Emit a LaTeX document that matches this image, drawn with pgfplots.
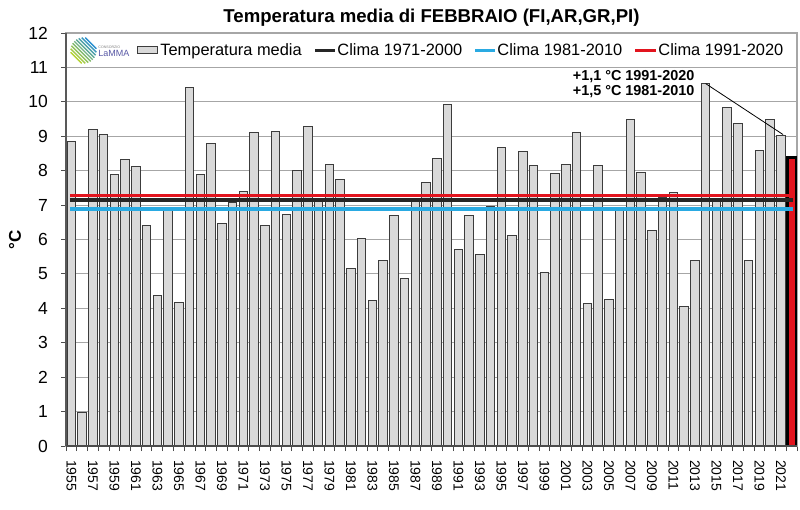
\documentclass[border=0pt]{standalone}
\usepackage{fontspec}
\setmainfont{Liberation Sans}
\usepackage{pgfplots}
\usepackage{pgfplotstable}
\pgfplotsset{compat=1.18}
\definecolor{barfill}{HTML}{D9D9D9}
\definecolor{baredge}{HTML}{3C3C3C}
\definecolor{climablue}{HTML}{2AAAE2}
\definecolor{climared}{HTML}{E2141E}
\definecolor{climablack}{HTML}{262626}
\definecolor{gridgray}{HTML}{A6A6A6}
\definecolor{logogreen}{HTML}{B5D334}
\definecolor{logoblue}{HTML}{2A8FD0}

\pgfplotstableread{
year temp
1955 8.84
1956 0.97
1957 9.21
1958 9.06
1959 7.90
1960 8.33
1961 8.11
1962 6.42
1963 4.37
1964 6.85
1965 4.18
1966 10.42
1967 7.88
1968 8.80
1969 6.47
1970 7.08
1971 7.39
1972 9.10
1973 6.42
1974 9.13
1975 6.72
1976 8.00
1977 9.27
1978 7.20
1979 8.18
1980 7.75
1981 5.17
1982 6.02
1983 4.24
1984 5.38
1985 6.71
1986 4.86
1987 7.12
1988 7.66
1989 8.36
1990 9.91
1991 5.71
1992 6.71
1993 5.55
1994 6.95
1995 8.68
1996 6.13
1997 8.57
1998 8.15
1999 5.04
2000 7.93
2001 8.17
2002 9.10
2003 4.13
2004 8.14
2005 4.25
2006 6.83
2007 9.49
2008 7.94
2009 6.25
2010 7.22
2011 7.38
2012 4.05
2013 5.38
2014 10.53
2015 7.20
2016 9.83
2017 9.36
2018 5.38
2019 8.58
2020 9.49
2021 9.03
}\temps
\pgfplotstableread{
year temp
2022 8.38
}\lastyear

\begin{document}
\begin{tikzpicture}
\begin{axis}[
  name=ax,
  scale only axis, width=365.5pt, height=206.5pt,
  xmin=1954.5, xmax=2022.5, ymin=0, ymax=12,
  axis line style={draw=gridgray, line width=0.6pt},
  ytick={0,1,...,12},
  xtick={1954.5,1955.5,...,2022.5}, xticklabels={},
  extra x ticks={1955,1957,...,2021},
  extra x tick style={major tick length=0pt, grid=none},
  tick align=outside, xtick pos=left, ytick pos=left,
  major tick length=2.5pt,
  tick style={draw=black!70, line width=0.5pt},
  ymajorgrids, grid style={draw=gridgray, line width=0.5pt},
  /pgf/number format/assume math mode=true,
  /pgf/number format/1000 sep={},
  x tick label style={rotate=-90, anchor=west, font=\fontsize{7}{8}\selectfont},
  y tick label style={font=\fontsize{8.75}{10}\selectfont},
  xticklabel shift=3.5pt,
  yticklabel shift=3pt,
  ylabel={°C},
  ylabel style={font=\bfseries\fontsize{8.5}{10}\selectfont, at={(axis description cs:-0.0698,0.5)}, anchor=center},
  clip=false,
]
\draw[gridgray, fill=white, line width=0.6pt] (axis cs:1954.5,11) rectangle (axis cs:2022.5,12);
\addplot[ybar, bar width=0.8, bar shift=0pt, fill=barfill, draw=baredge, line width=0.5pt] table[x=year,y=temp]{\temps};
\addplot[ybar, bar width=0.8, bar shift=0pt, fill=climared, draw=black, line width=1.2pt] table[x=year,y=temp]{\lastyear};
\addplot[climablue, line width=1.9pt] coordinates {(1954.87,6.88) (2022.1,6.88)};
\addplot[climablack, line width=1.9pt] coordinates {(1954.87,7.14) (2022.1,7.14)};
\addplot[climared, line width=1.9pt] coordinates {(1954.87,7.28) (2022.1,7.28)};
\node[font=\bfseries\fontsize{7.2}{8}\selectfont] at (axis cs:2007.3,10.72) {+1,1 °C 1991-2020};
\node[font=\bfseries\fontsize{7.2}{8}\selectfont] at (axis cs:2007.3,10.30) {+1,5 °C 1981-2010};
\draw[black, line width=0.4pt] (axis cs:2014,10.53) -- (axis cs:2021.2,9.05);
\end{axis}
\node[anchor=base, inner sep=0pt, font=\bfseries\fontsize{9.3}{11}\selectfont] at ([yshift=5pt]ax.north) {Temperatura media di FEBBRAIO (FI,AR,GR,PI)};
\draw[black!65, line width=0.6pt] (ax.south west) -- (ax.north west);
\draw[black!70, line width=0.6pt] (ax.south west) -- (ax.south east);
\begin{scope}[shift={(ax.north west)}]
  \draw[baredge, fill=barfill, line width=0.5pt] (35.5pt,-7pt) rectangle (45.5pt,-10.5pt);
  \node[anchor=base west, inner sep=0pt, font=\fontsize{8.2}{10}\selectfont] at (47pt,-11.15pt) {Temperatura media};
  \draw[climablack, line width=1.5pt] (124.5pt,-8.6pt) -- (134.5pt,-8.6pt);
  \node[anchor=base west, inner sep=0pt, font=\fontsize{8.2}{10}\selectfont] at (135.5pt,-11.15pt) {Clima 1971-2000};
  \draw[climablue, line width=1.5pt] (204.5pt,-8.6pt) -- (214.5pt,-8.6pt);
  \node[anchor=base west, inner sep=0pt, font=\fontsize{8.2}{10}\selectfont] at (215.5pt,-11.15pt) {Clima 1981-2010};
  \draw[climared, line width=1.5pt] (284.5pt,-8.6pt) -- (295pt,-8.6pt);
  \node[anchor=base west, inner sep=0pt, font=\fontsize{8.2}{10}\selectfont] at (296pt,-11.15pt) {Clima 1991-2020};
  \foreach \k in {-4,-3,...,4} {
    \pgfmathsetmacro{\L}{sqrt(42.25-(1.3*\k)*(1.3*\k))/1.4142}
    \pgfmathsetmacro{\cx}{8.75+0.919*\k}
    \pgfmathsetmacro{\cy}{-8.75+0.919*\k}
    \pgfmathtruncatemacro{\p}{(\k+4)*12.5}
    \draw[color=logoblue!\p!logogreen, line width=0.7pt] ({(\cx-\L)*1pt},{(\cy+\L)*1pt}) -- ({(\cx+\L)*1pt},{(\cy-\L)*1pt});
  }
  \node[anchor=west, inner sep=0pt, font=\fontsize{1.8}{2}\selectfont, text=gray] at (16pt,-7pt) {CONSORZIO};
  \node[anchor=west, inner sep=0pt, font=\fontsize{4.5}{5}\selectfont, text=gray!70!blue] at (16pt,-10pt) {LaMMA};
\end{scope}
\pgfresetboundingbox
\path ([shift={(-33pt,-31.5pt)}]ax.south west) rectangle ([shift={(1.5pt,16.5pt)}]ax.north east);
\end{tikzpicture}
\end{document}
